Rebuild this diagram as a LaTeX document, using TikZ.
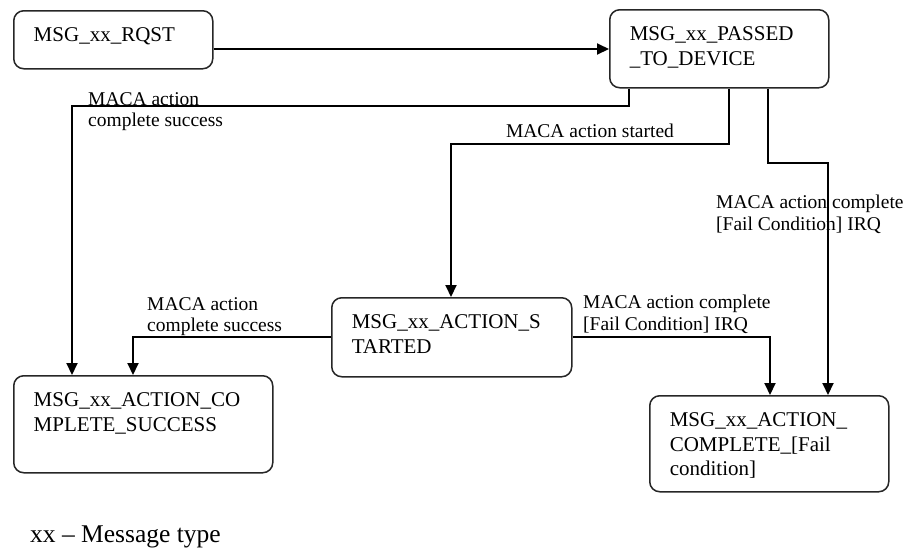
\documentclass[tikz,border=0pt]{standalone}
\usepackage{fontspec}
\setmainfont{Liberation Serif}
\usepackage{tikz}
\usetikzlibrary{arrows.meta, calc}
\newcommand{\stxt}[3]{\parbox[c][#1][t]{#2}{\raggedright #3}}
\tikzset{
  state/.style={draw=black!85, rounded corners=10pt, line width=1.5pt, anchor=north west, inner xsep=20pt, inner ysep=17pt, font=\fontsize{21}{24.5}\selectfont},
  cond/.style={inner sep=0pt, align=left, font=\fontsize{19.5}{21.5}\selectfont},
  flow/.style={-{Triangle[length=12pt, width=11pt]}, line width=2pt},
}

\begin{document}
\begin{tikzpicture}[x=1pt, y=-1pt]
  \useasboundingbox (0,0) rectangle (906,547);
  % states
  \node[state] (rqst) at (13,10) {\stxt{24pt}{159pt}{MSG\_xx\_RQST}};
  \node[state] (passed) at (609,9) {\stxt{44pt}{179pt}{MSG\_xx\_PASSED\\\_TO\_DEVICE}};
  \node[state] (started) at (331,297) {\stxt{45pt}{200pt}{MSG\_xx\_ACTION\_S\\TARTED}};
  \node[state] (success) at (13,375) {\stxt{63pt}{219pt}{MSG\_xx\_ACTION\_CO\\MPLETE\_SUCCESS}};
  \node[state] (fail) at (649,395) {\stxt{62pt}{199pt}{MSG\_xx\_ACTION\_\\COMPLETE\_[Fail\\condition]}};
  % transitions
  \draw[flow] (rqst.east |- 0,49) -- (passed.west |- 0,49);
  \draw[flow] (passed.south -| 629,0) |- (72,106) -- (success.north -| 72,0);
  \draw[flow] (passed.south -| 729,0) |- (451,144) -- (started.north -| 451,0);
  \draw[flow] (passed.south -| 768,0) |- (828,163) -- (fail.north -| 828,0);
  \draw[flow] (started.west |- 0,337) -| (success.north -| 133,0);
  \draw[flow] (started.east |- 0,337) -| (fail.north -| 770,0);
  % conditions
  \node[cond, anchor=north west] (c1) at (88,92) {MACA action\\complete success};
  \node[cond, anchor=base] (c2) at (590,137) {MACA action started};
  \node[cond, anchor=north west] (c3) at (716,195) {MACA action complete\\{}[Fail Condition] IRQ};
  \node[cond, anchor=north west] (c4) at (147,297) {MACA action\\complete success};
  \node[cond, anchor=north west] (c5) at (583,295) {MACA action complete\\{}[Fail Condition] IRQ};
  \node[anchor=base west, inner sep=0pt, font=\fontsize{25.5}{30}\selectfont] (key) at (30,542) {xx – Message type};
\end{tikzpicture}
\end{document}
